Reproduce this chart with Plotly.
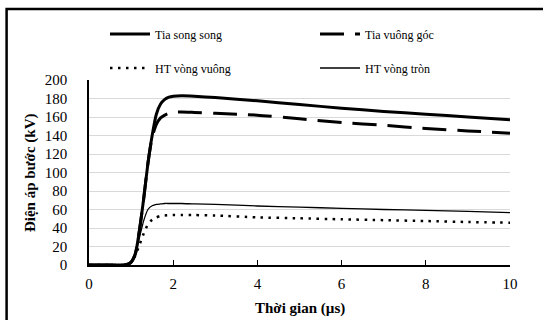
import plotly.graph_objects as go

t = [0, 0.8, 0.9, 1.0, 1.1, 1.2, 1.3, 1.4, 1.5, 1.6, 1.7, 1.8, 1.9, 2.0, 2.2, 2.5, 3, 4, 5, 6, 7, 8, 9, 10]
song_song = [0, 0, 0.5, 3, 12, 38, 72, 110, 140, 163, 174, 179, 181.5, 182.5, 183, 182.5, 181, 177.5, 173.5, 169.5, 166, 163, 160, 157]
vuong_goc = [0, 0, 0.5, 3, 12, 38, 72, 110, 138, 152, 159, 162, 164, 165, 165.5, 165, 164, 162, 158, 154, 151, 147.5, 145, 142.5]
vong_tron = [0, 0, 0.5, 3, 12, 30, 48, 60, 64, 65.5, 66, 66.5, 66.5, 66.5, 66.5, 66, 65.5, 63.8, 62.5, 61.3, 60, 59, 58, 56.6]
vong_vuong = [0, 0, 0.5, 3, 10, 22, 34, 44, 49, 51.5, 53, 53.5, 54, 54, 54, 54, 53.5, 51.5, 50.5, 49.4, 48.5, 47.5, 46.5, 45.7]

names = ["Tia song song", "Tia vuông góc", "HT vòng vuông", "HT vòng tròn"]
x_ticks = [0, 2, 4, 6, 8, 10]
y_ticks = list(range(0, 201, 20))
x_title = "Thời gian (µs)"
y_title = "Điện áp bước (kV)"

FONT = "Liberation Serif, Times New Roman, serif"

fig = go.Figure()
fig.add_trace(go.Scatter(x=t, y=song_song, name=names[0], mode="lines",
                         line=dict(color="black", width=3, shape="spline", smoothing=0.6),
                         legend="legend"))
fig.add_trace(go.Scatter(x=t, y=vuong_goc, name=names[1], mode="lines",
                         line=dict(color="black", width=3, dash="24px,11px", shape="spline", smoothing=0.6),
                         legend="legend2"))
fig.add_trace(go.Scatter(x=t, y=vong_vuong, name=names[2], mode="lines",
                         line=dict(color="black", width=2.5, dash="2.5px,5.5px", shape="spline", smoothing=0.6),
                         legend="legend3"))
fig.add_trace(go.Scatter(x=t, y=vong_tron, name=names[3], mode="lines",
                         line=dict(color="black", width=1.3, shape="spline", smoothing=0.6),
                         legend="legend4"))

leg_common = dict(xref="container", yref="container",
                  xanchor="left", yanchor="middle", bgcolor="rgba(0,0,0,0)",
                  font=dict(family=FONT, size=12, color="black"), itemwidth=40)

fig.update_layout(
    width=543, height=320,
    margin=dict(l=88.5, r=33, t=80, b=55, autoexpand=False),
    paper_bgcolor="white", plot_bgcolor="white",
    font=dict(family=FONT, color="black"),
    showlegend=True,
    legend=dict(x=105/543, y=1 - 34/320, **leg_common),
    legend2=dict(x=315/543, y=1 - 34/320, **leg_common),
    legend3=dict(x=105/543, y=1 - 68/320, **leg_common),
    legend4=dict(x=315/543, y=1 - 68/320, **leg_common),
    xaxis=dict(range=[0, 10], tickvals=x_ticks, showgrid=False, zeroline=False,
               showline=True, linecolor="black", linewidth=1.5,
               ticks="inside", ticklen=5, tickcolor="black", ticklabelstandoff=4,
               tickfont=dict(family=FONT, size=15, color="black")),
    yaxis=dict(range=[0, 200], tickvals=y_ticks, showgrid=True, gridcolor="#d9d9d9", gridwidth=1,
               zeroline=False, showline=True, linecolor="black", linewidth=1.5, ticks="",
               ticklabelstandoff=17,
               tickfont=dict(family=FONT, size=15, color="black")),
    annotations=[
        dict(text="<b>" + x_title + "</b>", xref="paper", yref="paper",
             x=0.5, y=(265 - 308) / 185, xanchor="center", yanchor="middle", showarrow=False,
             font=dict(family=FONT, size=15, color="black")),
        dict(text="<b>" + y_title + "</b>", xref="paper", yref="paper",
             x=(30 - 88.5) / 421.5, y=0.5, xanchor="center", yanchor="middle", showarrow=False,
             textangle=-90, font=dict(family=FONT, size=15, color="black")),
    ],
)

fig.add_shape(type="rect", xref="paper", yref="paper",
              x0=(6 - 88.5) / 421.5, x1=1.1, y0=-0.35, y1=(265 - 9) / 185,
              line=dict(color="black", width=2.5), fillcolor="rgba(0,0,0,0)", layer="above")

fig.write_html("out.html")
